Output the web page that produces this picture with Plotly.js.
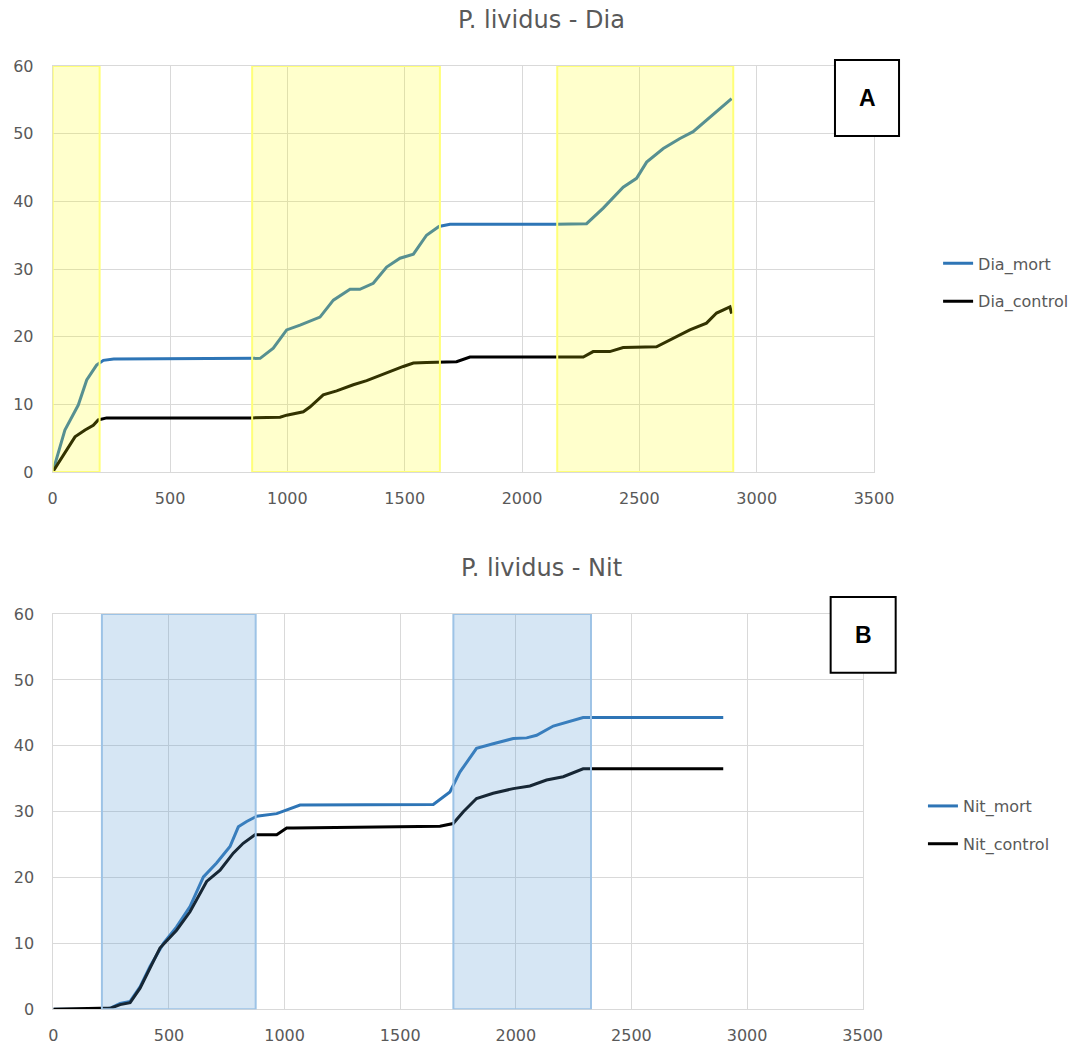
<!DOCTYPE html>
<html>
<head>
<meta charset="utf-8">
<script src="https://cdn.plot.ly/plotly-3.0.1.min.js"></script>
<style>html,body{margin:0;padding:0;background:#fff;}#chart{width:1082px;height:1045px;}</style>
</head>
<body>
<div id="chart"></div>
<script>
// ---- Panel A: P. lividus - Dia ----
const diaMortX = [0,52,109,145,187,216,260,848,884,940,997,1054,1139,1196,1267,1309,1366,1423,1480,1537,1593,1646,1693,2143,2275,2346,2431,2488,2531,2602,2673,2729,2786,2857,2893];
const diaMortY = [0,6.2,9.9,13.6,15.8,16.5,16.7,16.7,16.8,18.3,21,21.7,22.9,25.4,27,27,27.9,30.3,31.6,32.2,35,36.3,36.6,36.6,36.7,39,42.1,43.4,45.8,47.8,49.3,50.3,52,54,55.2];
const diaCtrlX = [0,59,95,138,173,194,230,848,969,997,1068,1096,1153,1210,1281,1338,1395,1437,1494,1537,1593,1721,1778,2261,2303,2374,2431,2573,2644,2715,2786,2829,2886,2893];
const diaCtrlY = [0,3.2,5.2,6.2,6.9,7.7,8.0,8.0,8.1,8.4,8.9,9.6,11.4,12,12.9,13.5,14.3,14.9,15.6,16.1,16.2,16.3,17,17,17.8,17.8,18.4,18.5,19.7,21,22,23.5,24.4,23.4];
const diaBands = [[0,200],[850,1650],[2150,2900]];

// ---- Panel B: P. lividus - Nit ----
const nitMortX = [0,202,245,289,332,375,418,476,533,591,649,706,764,800,836,879,966,1023,1067,1643,1715,1758,1830,1902,1989,2047,2090,2162,2220,2291,2897];
const nitMortY = [0,0,0.15,0.9,1.2,3.4,6.5,10,12.5,15.6,20.1,22.2,24.7,27.7,28.5,29.3,29.7,30.5,31,31.1,33,36,39.6,40.3,41.1,41.2,41.6,43,43.6,44.3,44.3];
const nitCtrlX = [0,250,289,332,375,461,533,591,663,721,778,821,872,966,1009,1038,1672,1729,1773,1830,1902,1989,2061,2133,2205,2291,2897];
const nitCtrlY = [0,0.2,0.7,1,3.2,9.3,12,14.8,19.4,21.1,23.7,25.2,26.5,26.5,27.5,27.5,27.8,28.2,30,32,32.8,33.5,33.9,34.8,35.3,36.5,36.5];
const nitBands = [[210,875],[1730,2325]];

const xTicks = [0,500,1000,1500,2000,2500,3000,3500];
const yTicks = [0,10,20,30,40,50,60];
const seriesNames = ['Dia_mort','Dia_control','Nit_mort','Nit_control'];
const titles = ['P. lividus - Dia','P. lividus - Nit'];
const panelLabels = ['A','B'];

const BLUE = '#2E75B6', BLACK = '#000000', GREY = '#595959', GRID = '#D9D9D9';
const FONT = 'DejaVu Sans';

const traces = [
  {x: diaMortX, y: diaMortY, name: seriesNames[0], xaxis:'x', yaxis:'y', legend:'legend', legendgroup:'a', mode:'lines', line:{color:BLUE, width:3}},
  {x: diaCtrlX, y: diaCtrlY, name: seriesNames[1], xaxis:'x', yaxis:'y', legend:'legend', legendgroup:'b', mode:'lines', line:{color:BLACK, width:3}},
  {x: nitMortX, y: nitMortY, name: seriesNames[2], xaxis:'x2', yaxis:'y2', legend:'legend2', legendgroup:'c', mode:'lines', line:{color:BLUE, width:3}},
  {x: nitCtrlX, y: nitCtrlY, name: seriesNames[3], xaxis:'x2', yaxis:'y2', legend:'legend2', legendgroup:'d', mode:'lines', line:{color:BLACK, width:3}}
];

const shapes = [];
diaBands.forEach(b => shapes.push({type:'rect', xref:'x', yref:'y', x0:b[0], x1:b[1], y0:0, y1:60, layer:'above',
  fillcolor:'rgba(255,255,0,0.2)', line:{color:'rgba(255,255,120,1)', width:2}}));
nitBands.forEach(b => shapes.push({type:'rect', xref:'x2', yref:'y2', x0:b[0], x1:b[1], y0:0, y1:60, layer:'above',
  fillcolor:'rgba(91,155,213,0.25)', line:{color:'rgba(157,195,230,1)', width:2}}));
shapes.push({type:'rect', xref:'paper', yref:'paper', x0:0.7717, x1:0.8309, y0:0.8699, y1:0.9426, layer:'above', fillcolor:'#fff', line:{color:'#000', width:2}});
shapes.push({type:'rect', xref:'paper', yref:'paper', x0:0.7677, x1:0.8278, y0:0.3563, y1:0.4287, layer:'above', fillcolor:'#fff', line:{color:'#000', width:2}});

const annotations = [
  {text: titles[0], xref:'paper', yref:'paper', x:0.5, y:0.9809, showarrow:false, xanchor:'center', yanchor:'middle', font:{family:FONT, size:24, color:GREY}},
  {text: titles[1], xref:'paper', yref:'paper', x:0.5, y:0.4565, showarrow:false, xanchor:'center', yanchor:'middle', font:{family:FONT, size:24, color:GREY}},
  {text: '<b>'+panelLabels[0]+'</b>', xref:'paper', yref:'paper', x:0.8013, y:0.9062, showarrow:false, xanchor:'center', yanchor:'middle', font:{family:'Liberation Sans', size:23, color:'#000'}},
  {text: '<b>'+panelLabels[1]+'</b>', xref:'paper', yref:'paper', x:0.7978, y:0.3925, showarrow:false, xanchor:'center', yanchor:'middle', font:{family:'Liberation Sans', size:23, color:'#000'}}
];

function xax(domain, anchor){
  return {domain: domain, anchor: anchor, range:[0,3500], tickvals: xTicks, ticktext: xTicks.map(String), showgrid:true, gridcolor:GRID, gridwidth:1,
    zeroline:false, showline:true, mirror:true, linecolor:GRID, linewidth:1, ticks:'', ticklabelstandoff:12,
    tickfont:{family:FONT, size:16, color:GREY}, fixedrange:true, automargin:false};
}
function yax(domain, anchor){
  return {domain: domain, anchor: anchor, range:[0,60], tickvals: yTicks, ticktext: yTicks.map(String), showgrid:true, gridcolor:GRID, gridwidth:1,
    zeroline:false, showline:true, mirror:true, linecolor:GRID, linewidth:1, ticks:'', ticklabelstandoff:15,
    tickfont:{family:FONT, size:16, color:GREY}, fixedrange:true, automargin:false};
}

const legendBase = {xanchor:'left', yanchor:'middle', bgcolor:'rgba(0,0,0,0)', borderwidth:0, tracegroupgap:14,
  font:{family:FONT, size:16, color:GREY}};

const layout = {
  width:1082, height:1045, margin:{l:0,r:0,t:0,b:0}, paper_bgcolor:'#fff', plot_bgcolor:'#fff',
  showlegend:true,
  xaxis: xax([0.0487,0.8078],'y'),
  yaxis: yax([0.5483,0.9368],'x'),
  xaxis2: xax([0.0493,0.7973],'y2'),
  yaxis2: yax([0.0342,0.4124],'x2'),
  legend: Object.assign({}, legendBase, {x:0.867, y:0.7297}),
  legend2: Object.assign({}, legendBase, {x:0.853, y:0.2105}),
  shapes: shapes,
  annotations: annotations
};

Plotly.newPlot('chart', traces, layout, {displayModeBar:false, staticPlot:true});
</script>
</body>
</html>
